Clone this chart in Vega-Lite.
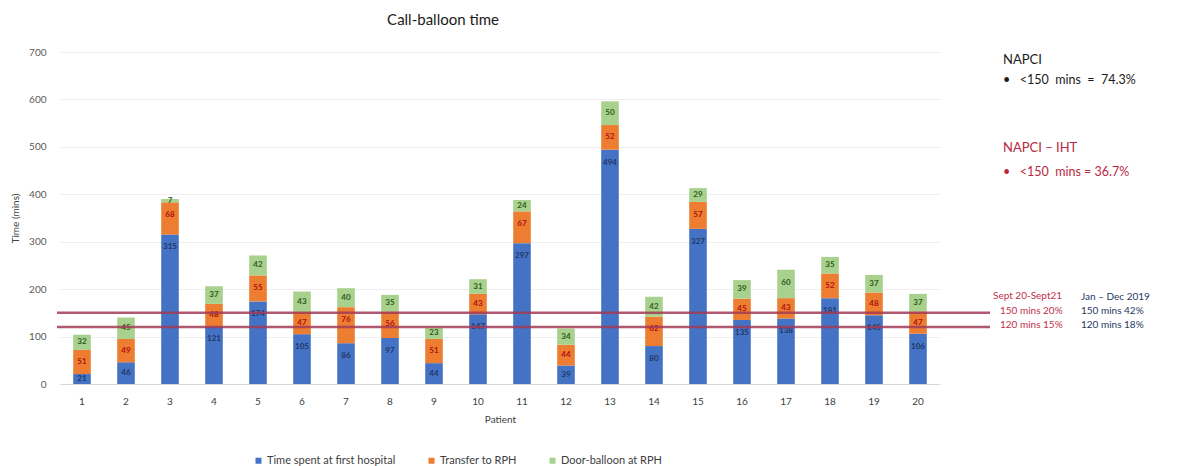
{
  "$schema": "https://vega.github.io/schema/vega-lite/v6.json",
  "width": 880,
  "height": 332,
  "autosize": {"type": "none"},
  "padding": {"left": 60, "top": 52, "right": 249, "bottom": 82},
  "background": "white",
  "config": {"font": "Lato", "view": {"stroke": null}},
  "title": {"text": "Call-balloon time", "fontSize": 15, "fontWeight": "normal", "color": "#1a1a1a", "anchor": "middle", "dx": -57, "offset": 19},
  "datasets": {
    "bars": [
      {"patient": 1, "k": 1, "component": "Time spent at first hospital", "mins": 21},
      {"patient": 1, "k": 2, "component": "Transfer to RPH", "mins": 51},
      {"patient": 1, "k": 3, "component": "Door-balloon at RPH", "mins": 32},
      {"patient": 2, "k": 1, "component": "Time spent at first hospital", "mins": 46},
      {"patient": 2, "k": 2, "component": "Transfer to RPH", "mins": 49},
      {"patient": 2, "k": 3, "component": "Door-balloon at RPH", "mins": 45},
      {"patient": 3, "k": 1, "component": "Time spent at first hospital", "mins": 315},
      {"patient": 3, "k": 2, "component": "Transfer to RPH", "mins": 68},
      {"patient": 3, "k": 3, "component": "Door-balloon at RPH", "mins": 7},
      {"patient": 4, "k": 1, "component": "Time spent at first hospital", "mins": 121},
      {"patient": 4, "k": 2, "component": "Transfer to RPH", "mins": 48},
      {"patient": 4, "k": 3, "component": "Door-balloon at RPH", "mins": 37},
      {"patient": 5, "k": 1, "component": "Time spent at first hospital", "mins": 174},
      {"patient": 5, "k": 2, "component": "Transfer to RPH", "mins": 55},
      {"patient": 5, "k": 3, "component": "Door-balloon at RPH", "mins": 42},
      {"patient": 6, "k": 1, "component": "Time spent at first hospital", "mins": 105},
      {"patient": 6, "k": 2, "component": "Transfer to RPH", "mins": 47},
      {"patient": 6, "k": 3, "component": "Door-balloon at RPH", "mins": 43},
      {"patient": 7, "k": 1, "component": "Time spent at first hospital", "mins": 86},
      {"patient": 7, "k": 2, "component": "Transfer to RPH", "mins": 76},
      {"patient": 7, "k": 3, "component": "Door-balloon at RPH", "mins": 40},
      {"patient": 8, "k": 1, "component": "Time spent at first hospital", "mins": 97},
      {"patient": 8, "k": 2, "component": "Transfer to RPH", "mins": 56},
      {"patient": 8, "k": 3, "component": "Door-balloon at RPH", "mins": 35},
      {"patient": 9, "k": 1, "component": "Time spent at first hospital", "mins": 44},
      {"patient": 9, "k": 2, "component": "Transfer to RPH", "mins": 51},
      {"patient": 9, "k": 3, "component": "Door-balloon at RPH", "mins": 23},
      {"patient": 10, "k": 1, "component": "Time spent at first hospital", "mins": 147},
      {"patient": 10, "k": 2, "component": "Transfer to RPH", "mins": 43},
      {"patient": 10, "k": 3, "component": "Door-balloon at RPH", "mins": 31},
      {"patient": 11, "k": 1, "component": "Time spent at first hospital", "mins": 297},
      {"patient": 11, "k": 2, "component": "Transfer to RPH", "mins": 67},
      {"patient": 11, "k": 3, "component": "Door-balloon at RPH", "mins": 24},
      {"patient": 12, "k": 1, "component": "Time spent at first hospital", "mins": 39},
      {"patient": 12, "k": 2, "component": "Transfer to RPH", "mins": 44},
      {"patient": 12, "k": 3, "component": "Door-balloon at RPH", "mins": 34},
      {"patient": 13, "k": 1, "component": "Time spent at first hospital", "mins": 494},
      {"patient": 13, "k": 2, "component": "Transfer to RPH", "mins": 52},
      {"patient": 13, "k": 3, "component": "Door-balloon at RPH", "mins": 50},
      {"patient": 14, "k": 1, "component": "Time spent at first hospital", "mins": 80},
      {"patient": 14, "k": 2, "component": "Transfer to RPH", "mins": 62},
      {"patient": 14, "k": 3, "component": "Door-balloon at RPH", "mins": 42},
      {"patient": 15, "k": 1, "component": "Time spent at first hospital", "mins": 327},
      {"patient": 15, "k": 2, "component": "Transfer to RPH", "mins": 57},
      {"patient": 15, "k": 3, "component": "Door-balloon at RPH", "mins": 29},
      {"patient": 16, "k": 1, "component": "Time spent at first hospital", "mins": 135},
      {"patient": 16, "k": 2, "component": "Transfer to RPH", "mins": 45},
      {"patient": 16, "k": 3, "component": "Door-balloon at RPH", "mins": 39},
      {"patient": 17, "k": 1, "component": "Time spent at first hospital", "mins": 138},
      {"patient": 17, "k": 2, "component": "Transfer to RPH", "mins": 43},
      {"patient": 17, "k": 3, "component": "Door-balloon at RPH", "mins": 60},
      {"patient": 18, "k": 1, "component": "Time spent at first hospital", "mins": 181},
      {"patient": 18, "k": 2, "component": "Transfer to RPH", "mins": 52},
      {"patient": 18, "k": 3, "component": "Door-balloon at RPH", "mins": 35},
      {"patient": 19, "k": 1, "component": "Time spent at first hospital", "mins": 145},
      {"patient": 19, "k": 2, "component": "Transfer to RPH", "mins": 48},
      {"patient": 19, "k": 3, "component": "Door-balloon at RPH", "mins": 37},
      {"patient": 20, "k": 1, "component": "Time spent at first hospital", "mins": 106},
      {"patient": 20, "k": 2, "component": "Transfer to RPH", "mins": 47},
      {"patient": 20, "k": 3, "component": "Door-balloon at RPH", "mins": 37}
    ],
    "targets": [{"mins": 150}, {"mins": 120}]
  },
  "layer": [
    {
      "data": {"name": "bars"},
      "transform": [
        {"stack": "mins", "groupby": ["patient"], "sort": [{"field": "k", "order": "ascending"}], "as": ["y0", "y1"]}
      ],
      "mark": {"type": "bar"},
      "encoding": {
        "x": {
          "field": "patient", "type": "ordinal",
          "scale": {"paddingInner": 0.6, "paddingOuter": 0.3},
          "axis": {"title": "Patient", "labelAngle": 0, "domain": true, "domainColor": "#d9d9d9", "ticks": false, "labelPadding": 12, "labelFontSize": 10, "labelColor": "#404040", "titleFontSize": 10, "titleFontWeight": "normal", "titleColor": "#404040", "titlePadding": 8}
        },
        "y": {
          "field": "y1", "type": "quantitative",
          "scale": {"domain": [0, 700]},
          "axis": {"title": "Time (mins)", "values": [0, 100, 200, 300, 400, 500, 600, 700], "grid": true, "gridColor": "#efefef", "domain": false, "ticks": false, "labelPadding": 14, "labelFontSize": 10, "labelColor": "#595959", "titleFontSize": 10, "titleFontWeight": "normal", "titleColor": "#404040", "titlePadding": 8}
        },
        "y2": {"field": "y0"},
        "color": {
          "field": "component", "type": "nominal",
          "scale": {"domain": ["Time spent at first hospital", "Transfer to RPH", "Door-balloon at RPH"], "range": ["#4472C4", "#ED7D31", "#A9D18E"]},
          "legend": {"title": null, "orient": "none", "legendX": 193, "legendY": 403, "direction": "horizontal", "symbolType": "square", "symbolSize": 36, "labelFontSize": 11, "labelColor": "#404040", "columnPadding": 30, "labelOffset": 3}
        }
      }
    },
    {
      "data": {"name": "bars"},
      "transform": [
        {"stack": "mins", "groupby": ["patient"], "sort": [{"field": "k", "order": "ascending"}], "as": ["y0", "y1"]},
        {"calculate": "max((datum.y0 + datum.y1) / 2, datum.y1 - 27)", "as": "ly"}
      ],
      "mark": {"type": "text", "fontSize": 8, "fontWeight": "bold", "baseline": "middle", "align": "center"},
      "encoding": {
        "x": {"field": "patient", "type": "ordinal"},
        "y": {"field": "ly", "type": "quantitative"},
        "text": {"field": "mins", "type": "quantitative"},
        "color": {
          "condition": [
            {"test": "datum.k === 1", "value": "#1F3864"},
            {"test": "datum.k === 2", "value": "#B01010"}
          ],
          "value": "#2E5A1C"
        }
      }
    },
    {
      "data": {"name": "targets"},
      "mark": {"type": "rule", "color": "#a23b56", "strokeWidth": 2.5, "opacity": 0.85},
      "encoding": {
        "y": {"field": "mins", "type": "quantitative"},
        "x": {"value": -3},
        "x2": {"value": 930}
      }
    },
    {
      "data": {"values": [{}]},
      "mark": {"type": "text", "text": "NAPCI", "align": "left", "baseline": "middle", "fontSize": 13, "color": "#1a1a1a"},
      "encoding": {"y": {"datum": 683}, "x": {"value": 943}}
    },
    {
      "data": {"values": [{}]},
      "mark": {"type": "text", "text": "•\u00a0\u00a0\u00a0<150\u00a0\u00a0mins\u00a0\u00a0=\u00a0\u00a074.3%", "align": "left", "baseline": "middle", "fontSize": 12.5, "color": "#1a1a1a"},
      "encoding": {"y": {"datum": 641}, "x": {"value": 943}}
    },
    {
      "data": {"values": [{}]},
      "mark": {"type": "text", "text": "NAPCI – IHT", "align": "left", "baseline": "middle", "fontSize": 13, "color": "#B8283E"},
      "encoding": {"y": {"datum": 498}, "x": {"value": 943}}
    },
    {
      "data": {"values": [{}]},
      "mark": {"type": "text", "text": "•\u00a0\u00a0\u00a0<150\u00a0\u00a0mins = 36.7%", "align": "left", "baseline": "middle", "fontSize": 12.5, "color": "#B8283E"},
      "encoding": {"y": {"datum": 447}, "x": {"value": 943}}
    },
    {
      "data": {"values": [{}]},
      "mark": {"type": "text", "text": "Sept 20-Sept21", "align": "left", "baseline": "middle", "fontSize": 10, "color": "#C0304A"},
      "encoding": {"y": {"datum": 185}, "x": {"value": 933}}
    },
    {
      "data": {"values": [{}]},
      "mark": {"type": "text", "text": "150 mins 20%", "align": "left", "baseline": "middle", "fontSize": 10, "color": "#C0304A"},
      "encoding": {"y": {"datum": 154}, "x": {"value": 940}}
    },
    {
      "data": {"values": [{}]},
      "mark": {"type": "text", "text": "120 mins 15%", "align": "left", "baseline": "middle", "fontSize": 10, "color": "#C0304A"},
      "encoding": {"y": {"datum": 124}, "x": {"value": 940}}
    },
    {
      "data": {"values": [{}]},
      "mark": {"type": "text", "text": "Jan – Dec 2019", "align": "left", "baseline": "middle", "fontSize": 10, "color": "#1F3864"},
      "encoding": {"y": {"datum": 183}, "x": {"value": 1021}}
    },
    {
      "data": {"values": [{}]},
      "mark": {"type": "text", "text": "150 mins 42%", "align": "left", "baseline": "middle", "fontSize": 10, "color": "#1F3864"},
      "encoding": {"y": {"datum": 154}, "x": {"value": 1021}}
    },
    {
      "data": {"values": [{}]},
      "mark": {"type": "text", "text": "120 mins 18%", "align": "left", "baseline": "middle", "fontSize": 10, "color": "#1F3864"},
      "encoding": {"y": {"datum": 124}, "x": {"value": 1021}}
    }
  ]
}
